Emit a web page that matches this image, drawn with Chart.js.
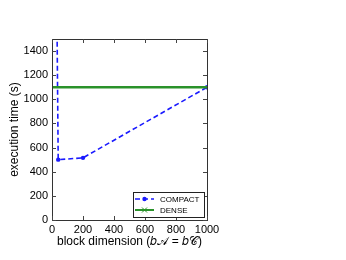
<!DOCTYPE html>
<html><head><meta charset="utf-8">
<script src="https://cdn.jsdelivr.net/npm/chart.js@4"></script>
<style>html,body{margin:0;padding:0;background:#fff;}canvas{display:block;}</style>
</head><body>
<canvas id="c" width="346" height="260"></canvas>
<script>
const compactX = [20, 40, 200, 1000];
const compactY = [3400, 500, 515, 1100];
const denseX = [0, 1000];
const denseY = [1100, 1100];
const xTicks = [0, 200, 400, 600, 800, 1000];
const yTicks = [0, 200, 400, 600, 800, 1000, 1200, 1400];
const seriesNames = ['COMPACT', 'DENSE'];

const FONT = 'Liberation Sans, Arial, sans-serif';

const framePlugin = {
  id: 'frame',
  afterDraw(chart) {
    const ctx = chart.ctx, a = chart.chartArea;
    const xs = chart.scales.x, ys = chart.scales.y;
    ctx.save();
    ctx.strokeStyle = '#333';
    ctx.lineWidth = 1;
    ctx.strokeRect(Math.round(a.left) + 0.5, Math.round(a.top) + 0.5, Math.round(a.right - a.left), Math.round(a.bottom - a.top));
    ctx.strokeStyle = '#444';
    const L = 4;
    xTicks.forEach(v => {
      const px = Math.round(xs.getPixelForValue(v)) + 0.5;
      ctx.beginPath();
      ctx.moveTo(px, a.bottom); ctx.lineTo(px, a.bottom - L);
      ctx.moveTo(px, a.top); ctx.lineTo(px, a.top + L);
      ctx.stroke();
    });
    yTicks.forEach(v => {
      const py = Math.round(ys.getPixelForValue(v)) + 0.5;
      ctx.beginPath();
      ctx.moveTo(a.left, py); ctx.lineTo(a.left + L, py);
      ctx.moveTo(a.right, py); ctx.lineTo(a.right - L, py);
      ctx.stroke();
    });
    // legend box
    const bx = 133, by = 192, bw = 71, bh = 25;
    ctx.fillStyle = '#fff';
    ctx.fillRect(bx, by, bw, bh);
    ctx.strokeStyle = '#222';
    ctx.strokeRect(bx + 0.5, by + 0.5, bw, bh);
    chart.data.datasets.forEach((ds, i) => {
      const ly = by + 7 + i * 11;
      ctx.strokeStyle = ds.borderColor;
      ctx.lineWidth = Math.min(ds.borderWidth, 2);
      ctx.setLineDash(ds.borderDash || []);
      ctx.beginPath(); ctx.moveTo(bx + 2, ly); ctx.lineTo(bx + 21, ly); ctx.stroke();
      ctx.setLineDash([]);
      const mx = bx + 11.5;
      if (ds.pointStyle === 'crossRot') {
        ctx.lineWidth = 1;
        ctx.beginPath(); ctx.moveTo(mx - 2.5, ly - 2.5); ctx.lineTo(mx + 2.5, ly + 2.5);
        ctx.moveTo(mx + 2.5, ly - 2.5); ctx.lineTo(mx - 2.5, ly + 2.5); ctx.stroke();
      } else {
        ctx.fillStyle = ds.pointBackgroundColor;
        ctx.beginPath(); ctx.arc(mx, ly, 2.2, 0, Math.PI * 2); ctx.fill();
      }
      ctx.fillStyle = '#000';
      ctx.font = '8px ' + FONT;
      ctx.textBaseline = 'middle';
      ctx.fillText(ds.label, bx + 27, ly + 0.5);
    });
    ctx.restore();
  }
};

new Chart(document.getElementById('c'), {
  type: 'line',
  data: {
    datasets: [
      {
        label: seriesNames[0],
        data: compactX.map((x, i) => ({x, y: compactY[i]})),
        borderColor: '#1a1aff',
        backgroundColor: '#1a1aff',
        pointBackgroundColor: '#1a1aff',
        pointBorderColor: '#1a1aff',
        borderWidth: 1.6,
        borderDash: [5, 3],
        pointRadius: 2.2,
        pointBorderWidth: 0,
        pointStyle: 'circle',
        tension: 0,
        order: 1
      },
      {
        label: seriesNames[1],
        data: denseX.map((x, i) => ({x, y: denseY[i]})),
        borderColor: '#2a922a',
        backgroundColor: '#2a922a',
        pointBackgroundColor: '#2a922a',
        pointBorderColor: '#2a922a',
        borderWidth: 2.6,
        pointRadius: 0,
        pointStyle: 'crossRot',
        tension: 0,
        order: 0
      }
    ]
  },
  options: {
    responsive: false,
    animation: false,
    devicePixelRatio: 1,
    layout: { padding: { left: 7, top: 39, right: 139, bottom: 11 } },
    plugins: { legend: { display: false }, tooltip: { enabled: false } },
    scales: {
      x: {
        type: 'linear', min: 0, max: 1000,
        afterBuildTicks: s => { s.ticks = xTicks.map(v => ({value: v})); },
        afterFit: s => { s.height = 29; },
        grid: { display: false, drawTicks: false },
        border: { display: false },
        ticks: { color: '#000', font: { family: FONT, size: 11 }, padding: 3, maxRotation: 0, callback: v => String(v) },
        title: { display: true, text: 'block dimension (𝑏𝒜 = 𝑏𝒞)', color: '#000', font: { family: FONT, size: 12 }, padding: { top: 0, bottom: 0 } }
      },
      y: {
        type: 'linear', min: 0, max: 1500,
        afterBuildTicks: s => { s.ticks = yTicks.map(v => ({value: v})); },
        afterFit: s => { s.width = 45; },
        grid: { display: false, drawTicks: false },
        border: { display: false },
        ticks: { color: '#000', font: { family: FONT, size: 11 }, padding: 4, callback: v => String(v) },
        title: { display: true, text: 'execution time (s)', color: '#000', font: { family: FONT, size: 12 }, padding: { top: 0, bottom: 2 } }
      }
    }
  },
  plugins: [framePlugin]
});
</script>
</body></html>
